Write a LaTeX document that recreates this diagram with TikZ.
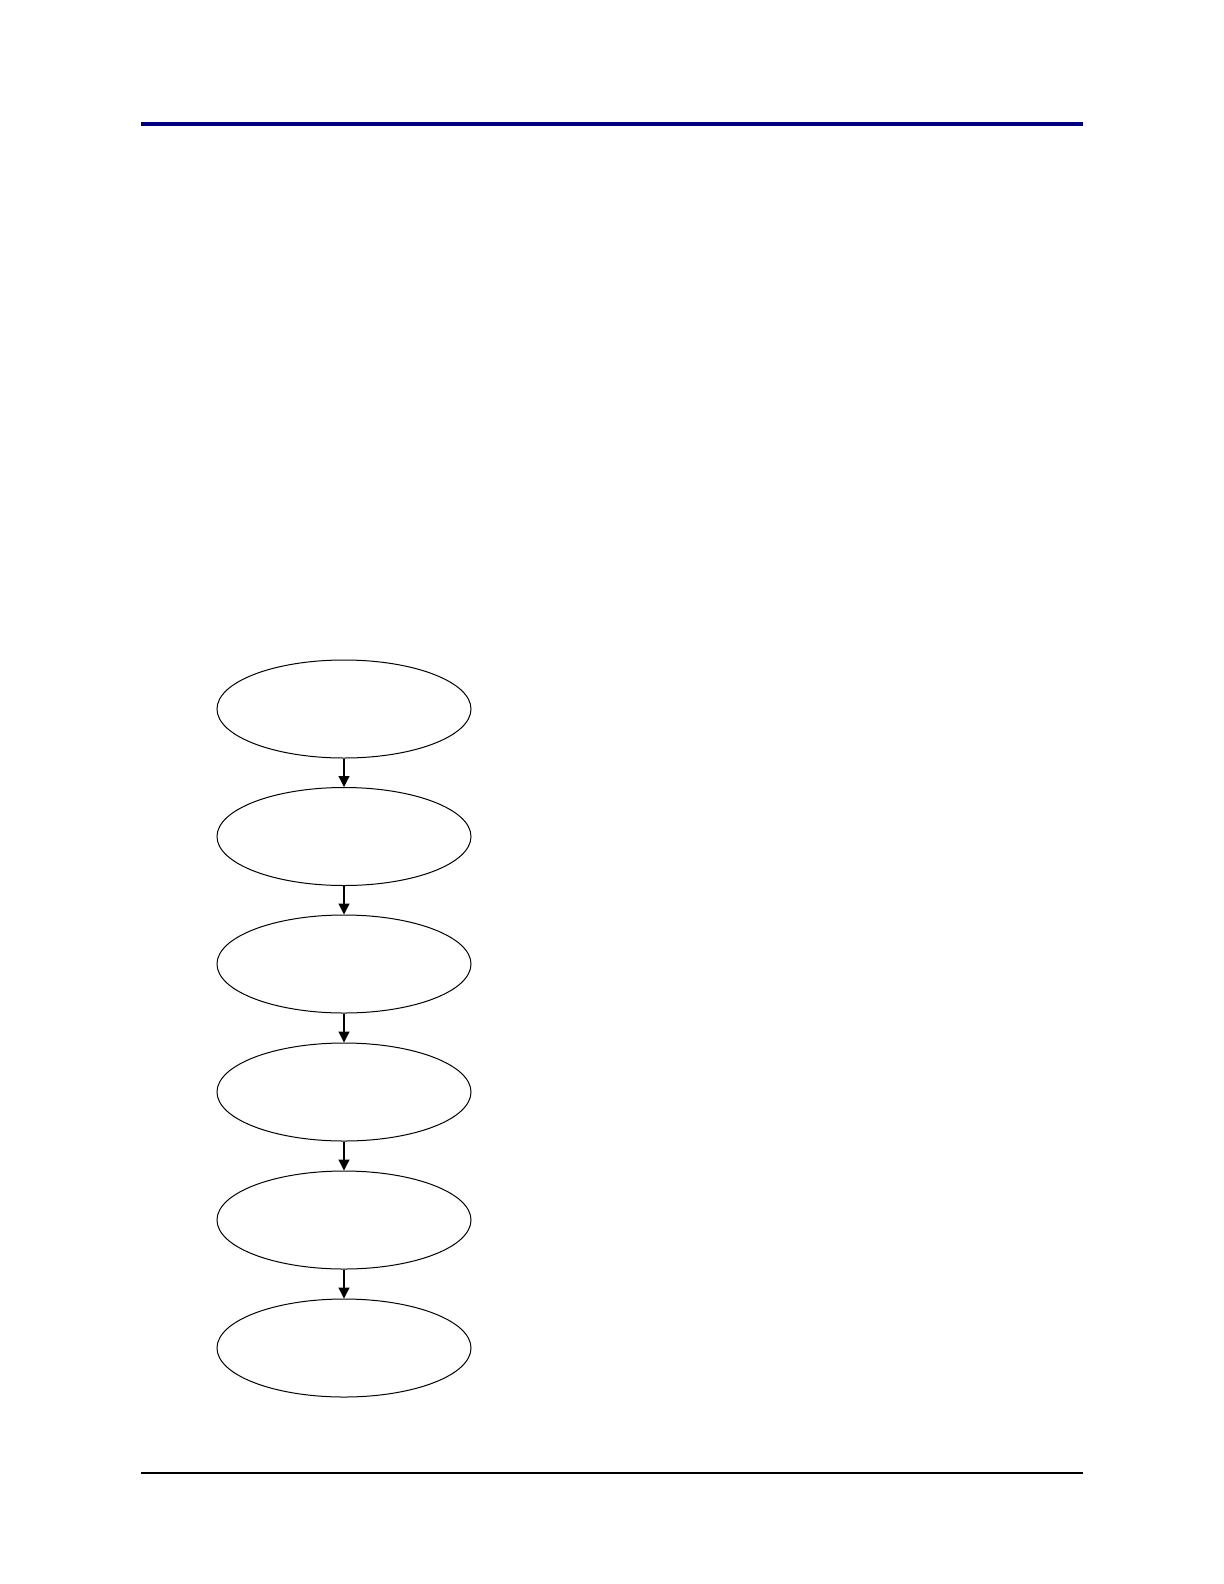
\documentclass[tikz,border=0pt]{standalone}
\usetikzlibrary{shapes.geometric,arrows.meta}
\definecolor{rulenavy}{RGB}{0,0,128}
\begin{document}
\begin{tikzpicture}[x=0.5pt, y=-0.5pt,
        stage/.style={draw, ellipse, line width=0.5pt, minimum width=127pt, minimum height=49pt, inner sep=0pt},
        flow/.style={-{Triangle[length=5.5pt,width=5.5pt]}, line width=0.6pt}]
    \useasboundingbox (0, 0) rectangle (1224, 1584);
    \draw [rulenavy, line width=1.6pt] (141, 124) -- (1083, 124);
    \draw [line width=0.6pt] (141, 1473) -- (1083, 1473);
    \node [stage] (s1) at (344, 709) {};
    \node [stage] (s2) at (344, 836.5) {};
    \node [stage] (s3) at (344, 964) {};
    \node [stage] (s4) at (344, 1092) {};
    \node [stage] (s5) at (344, 1220) {};
    \node [stage] (s6) at (344, 1348) {};
    \draw [flow] (s1) -- (s2);
    \draw [flow] (s2) -- (s3);
    \draw [flow] (s3) -- (s4);
    \draw [flow] (s4) -- (s5);
    \draw [flow] (s5) -- (s6);
\end{tikzpicture}
\end{document}
